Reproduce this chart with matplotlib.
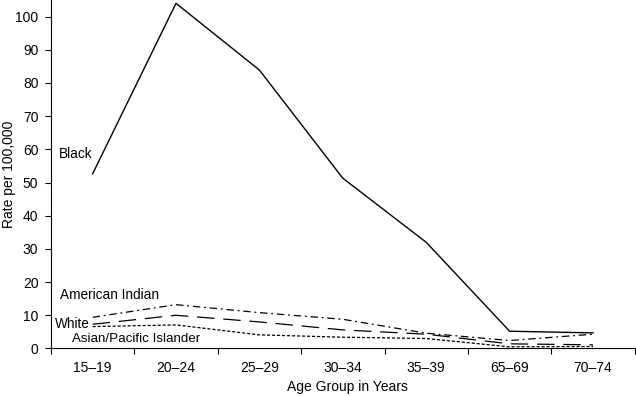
import numpy as np
import matplotlib.pyplot as plt

plt.rcParams['font.family'] = ['Liberation Sans', 'DejaVu Sans']

age_groups = ["15–19", "20–24", "25–29", "30–34", "35–39", "65–69", "70–74"]
black = [52.6, 104.0, 83.9, 51.3, 32.0, 5.2, 4.7]
american_indian = [9.4, 13.2, 10.8, 8.8, 4.6, 2.4, 4.3]
white = [7.3, 10.0, 8.0, 5.6, 4.3, 1.4, 1.1]
asian_pi = [6.6, 7.1, 4.1, 3.4, 3.0, 0.5, 0.6]

fig = plt.figure(figsize=(6.36, 3.96), dpi=100)
ax = fig.add_axes([0.080, 0.12, 0.918, 0.88])

x = np.arange(len(age_groups))
ax.plot(x, black, color="black", lw=1.0, linestyle="-")
ax.plot(x, american_indian, color="black", lw=0.9, linestyle=(0, (6, 3, 1.5, 3)))
ax.plot(x, white, color="black", lw=0.9, linestyle=(0, (14, 7)))
ax.plot(x, asian_pi, color="black", lw=0.9, linestyle=(0, (2.5, 1.5)))

# series labels written next to the lines
ax.text(-0.4, 58.5, "Black", fontsize=9.8, va="center", ha="left")
ax.text(-0.39, 16.0, "American Indian", fontsize=9.8, va="center", ha="left")
ax.text(-0.45, 7.4, "White", fontsize=9.8, va="center", ha="left")
ax.text(-0.25, 2.8, "Asian/Pacific Islander", fontsize=9.6, va="center", ha="left")

ax.set_xlim(-0.5, 6.5)
ax.set_ylim(0, 105)
ax.set_yticks(np.arange(0, 101, 10))
ax.set_xticks(x)
ax.set_xticklabels(age_groups)
ax.set_xticks(np.arange(-0.5, 7.0, 1.0), minor=True)
ax.tick_params(axis="x", which="major", length=0, pad=9, labelsize=10)
ax.tick_params(axis="x", which="minor", length=4, width=0.8)
ax.tick_params(axis="y", length=4, width=0.8, labelsize=10, pad=5)

for side in ["top", "right"]:
    ax.spines[side].set_visible(False)
for side in ["left", "bottom"]:
    ax.spines[side].set_linewidth(0.8)

ax.set_ylabel("Rate per 100,000", fontsize=10, va="center")
ax.yaxis.set_label_coords(-0.072, 0.5)
ax.set_xlabel("Age Group in Years", fontsize=10, va="center")
ax.xaxis.set_label_coords(0.5085, -0.111)

fig.savefig("out.png", dpi=100)
